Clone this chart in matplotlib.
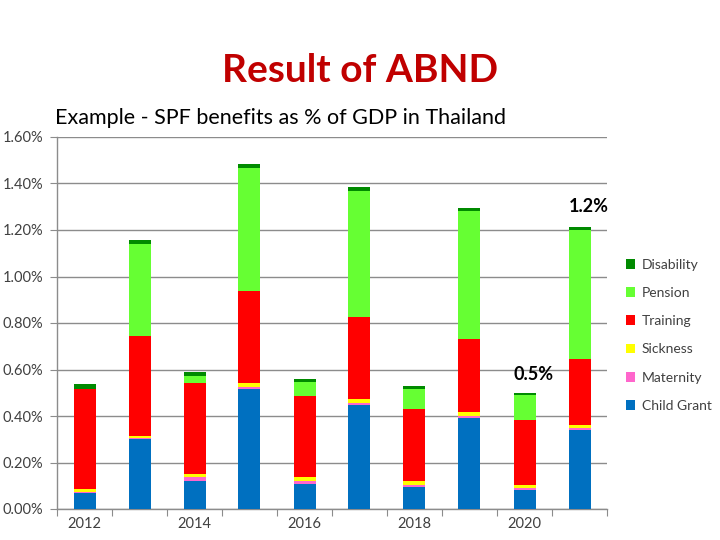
import matplotlib
matplotlib.use("Agg")
import matplotlib.pyplot as plt
from matplotlib.patches import Patch
from matplotlib.ticker import FuncFormatter, FixedLocator
import numpy as np

years = [2012, 2013, 2014, 2015, 2016, 2017, 2018, 2019, 2020, 2021]
year_labels = ["2012", "2014", "2016", "2018", "2020"]

child_grant = [0.070, 0.300, 0.122, 0.515, 0.106, 0.447, 0.093, 0.393, 0.080, 0.340]
maternity   = [0.004, 0.004, 0.014, 0.011, 0.014, 0.011, 0.011, 0.009, 0.010, 0.007]
sickness    = [0.012, 0.012, 0.016, 0.016, 0.017, 0.017, 0.016, 0.016, 0.014, 0.014]
training    = [0.429, 0.428, 0.391, 0.397, 0.350, 0.352, 0.312, 0.313, 0.279, 0.284]
pension     = [0.000, 0.394, 0.030, 0.529, 0.058, 0.542, 0.083, 0.552, 0.106, 0.554]
disability  = [0.021, 0.020, 0.018, 0.015, 0.014, 0.017, 0.014, 0.012, 0.011, 0.012]

series_names = ["Child Grant", "Maternity", "Sickness", "Training", "Pension", "Disability"]
series_vals = [child_grant, maternity, sickness, training, pension, disability]
colors = ["#0070C0", "#FF66CC", "#FFFF00", "#FF0000", "#66FF33", "#008A00"]

plt.rcParams['font.family'] = ['Lato', 'DejaVu Sans']

fig = plt.figure(figsize=(7.2, 5.4), dpi=100)
ax = fig.add_axes([57/720, 1-509/540, 550/720, 372/540])

x = np.arange(len(years))
bottom = np.zeros(len(years))
for name, vals, c in zip(series_names, series_vals, colors):
    v = np.array(vals)
    ax.bar(x, v, width=0.4, bottom=bottom, color=c, label=name, zorder=3)
    bottom += v

ax.set_xlim(-0.5, len(years) - 0.5)
ax.set_ylim(0, 1.6)
ax.set_yticks(np.arange(0, 1.61, 0.2))
ax.yaxis.set_major_formatter(FuncFormatter(lambda v, p: f"{v:.2f}%"))
ax.grid(axis='y', color='#8c8c8c', linewidth=1.0, zorder=0)

# x ticks: marks at category boundaries, labels every other year
ax.xaxis.set_major_locator(FixedLocator(np.arange(-0.5, len(years), 1.0)))
ax.set_xticklabels([])
ax.xaxis.set_minor_locator(FixedLocator([0, 2, 4, 6, 8]))
ax.set_xticklabels(year_labels, minor=True)
ax.tick_params(axis='x', which='major', length=5, color='#8c8c8c', direction='out')
ax.tick_params(axis='x', which='minor', length=0, pad=6, labelsize=10.5, labelcolor='#404040')
ax.tick_params(axis='y', length=5, color='#8c8c8c', direction='out', labelsize=10.5,
               labelcolor='#404040', pad=5)

for s in ['top', 'right']:
    ax.spines[s].set_visible(False)
for s in ['left', 'bottom']:
    ax.spines[s].set_color('#8c8c8c')
    ax.spines[s].set_linewidth(1.0)

# annotations
ax.text(9.17, 1.30, "1.2%", fontsize=13, fontweight='bold', ha='center', va='center', zorder=5)
ax.text(8.17, 0.58, "0.5%", fontsize=13, fontweight='bold', ha='center', va='center', zorder=5)

# Titles
fig.text(360/720, 1-70/540, "Result of ABND", color="#C00000", fontsize=28,
         fontweight='bold', ha='center', va='center')
fig.text(55/720, 1-118/540, "Example - SPF benefits as % of GDP in Thailand", color="black",
         fontsize=15.5, ha='left', va='center')

# Legend (top to bottom: Disability ... Child Grant)
handles = [Patch(facecolor=c, label=n) for n, c in zip(series_names, colors)][::-1]
leg = fig.legend(handles=handles, loc='upper left', bbox_to_anchor=(620/720, 1-253/540),
                 frameon=False, fontsize=10, handlelength=0.7, handleheight=0.7,
                 handletextpad=0.45, labelspacing=1.17, borderaxespad=0)
for t in leg.get_texts():
    t.set_color('#404040')

fig.savefig("out.png", dpi=100)
